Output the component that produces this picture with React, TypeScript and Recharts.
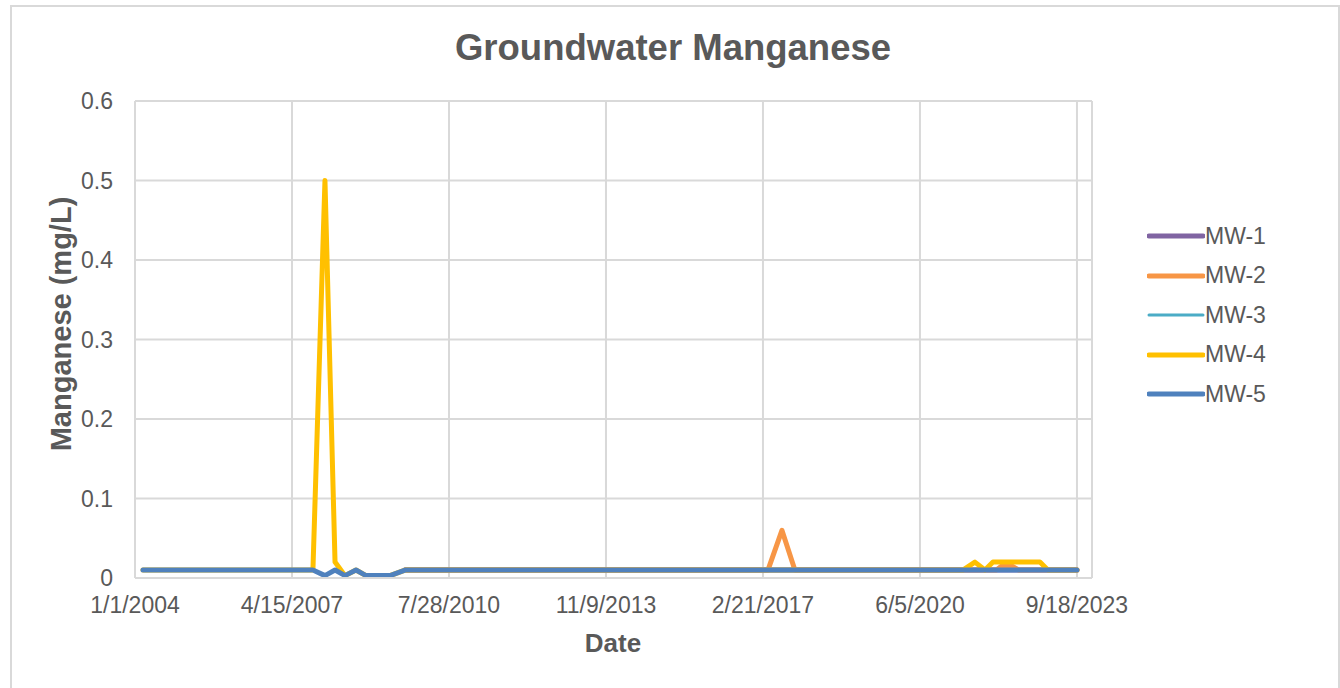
import React from 'react';
import { LineChart, Line, XAxis, YAxis, CartesianGrid } from 'recharts';

// sampling dates (YYYY-MM-DD) and manganese results in mg/L
const mw1Dates = ['2009-08-26', '2012-03-01', '2015-03-01', '2018-03-01', '2021-03-01', '2023-09-18'];
const mw1Values = [0.01, 0.01, 0.01, 0.01, 0.01, 0.01];

const mw2Dates = ['2009-08-26', '2013-03-01', '2017-03-31', '2017-07-16', '2017-10-23', '2022-01-10', '2022-02-20', '2022-05-10', '2022-07-01', '2023-09-18'];
const mw2Values = [0.01, 0.01, 0.01, 0.06, 0.01, 0.01, 0.015, 0.015, 0.01, 0.01];

const mw3Dates = ['2009-08-26', '2012-03-01', '2015-03-01', '2018-03-01', '2021-03-01', '2023-09-18'];
const mw3Values = [0.01, 0.01, 0.01, 0.01, 0.01, 0.01];

const mw4Dates = ['2004-03-02', '2007-09-22', '2007-12-23', '2008-03-09', '2008-05-24', '2008-08-16', '2008-11-01', '2009-05-03', '2009-08-26', '2021-04-29', '2021-07-30', '2021-10-15', '2021-12-15', '2022-12-09', '2023-02-08', '2023-09-18'];
const mw4Values = [0.01, 0.01, 0.5, 0.02, 0.003, 0.01, 0.003, 0.003, 0.01, 0.01, 0.02, 0.01, 0.02, 0.02, 0.01, 0.01];

const mw5Dates = ['2004-03-02', '2005-03-01', '2006-03-01', '2007-03-01', '2007-09-22', '2007-12-23', '2008-03-09', '2008-05-24', '2008-08-16', '2008-11-01', '2009-05-03', '2009-08-26', '2011-03-01', '2013-03-01', '2015-03-01', '2017-03-01', '2019-03-01', '2021-03-01', '2023-09-18'];
const mw5Values = [0.01, 0.01, 0.01, 0.01, 0.01, 0.003, 0.01, 0.003, 0.01, 0.003, 0.003, 0.01, 0.01, 0.01, 0.01, 0.01, 0.01, 0.01, 0.01];

const xTickDates = ['2004-01-01', '2007-04-15', '2010-07-28', '2013-11-09', '2017-02-21', '2020-06-05', '2023-09-18'];
const xMinDate = '2004-01-01';
const xMaxDate = '2024-01-11';
const yTicks = [0, 0.1, 0.2, 0.3, 0.4, 0.5, 0.6];

const toDay = (s: string) => {
  const [y, m, d] = s.split('-').map(Number);
  return Date.UTC(y, m - 1, d) / 86400000;
};

const fmtDate = (v: number) => {
  const d = new Date(v * 86400000);
  return `${d.getUTCMonth() + 1}/${d.getUTCDate()}/${d.getUTCFullYear()}`;
};

const toSeries = (dates: string[], values: number[]) =>
  dates.map((s, i) => ({ t: toDay(s), v: values[i] }));

const series = [
  { name: 'MW-1', color: '#8064A2', width: 5, data: toSeries(mw1Dates, mw1Values) },
  { name: 'MW-2', color: '#F79646', width: 5, data: toSeries(mw2Dates, mw2Values) },
  { name: 'MW-3', color: '#4BACC6', width: 3, data: toSeries(mw3Dates, mw3Values) },
  { name: 'MW-4', color: '#FFC000', width: 5, data: toSeries(mw4Dates, mw4Values) },
  { name: 'MW-5', color: '#4F81BD', width: 5, data: toSeries(mw5Dates, mw5Values) },
];

const FONT = '"Liberation Sans", Arial, sans-serif';
const TEXT = '#595959';
const GRID = '#d9d9d9';

export default function App() {
  return (
    <div
      style={{
        position: 'absolute',
        left: 0,
        top: 0,
        width: 1340,
        height: 688,
        overflow: 'hidden',
        background: '#fff',
        fontFamily: FONT,
      }}
    >
      <div
        style={{
          position: 'absolute',
          left: 10,
          top: 5,
          width: 1326,
          height: 720,
          border: `2px solid ${GRID}`,
        }}
      />
      <div
        style={{
          position: 'absolute',
          left: 0,
          width: 1346,
          top: 30,
          lineHeight: '36px',
          textAlign: 'center',
          fontSize: 36.5,
          fontWeight: 'bold',
          color: TEXT,
        }}
      >
        Groundwater Manganese
      </div>

      <div style={{ position: 'absolute', left: 0, top: 0 }}>
        <LineChart width={1340} height={688} margin={{ top: 101, right: 248, bottom: 70, left: 0 }}>
          <CartesianGrid stroke={GRID} strokeWidth={2} />
          <XAxis
            type="number"
            dataKey="t"
            domain={[toDay(xMinDate), toDay(xMaxDate)]}
            ticks={xTickDates.map(toDay)}
            tickFormatter={fmtDate}
            height={40}
            tickLine={false}
            tickSize={0}
            tickMargin={19}
            axisLine={{ stroke: GRID, strokeWidth: 2 }}
            tick={{ fill: TEXT, fontSize: 23, fontFamily: FONT }}
            interval={0}
          />
          <YAxis
            type="number"
            domain={[0, 0.6]}
            ticks={yTicks}
            width={135}
            tickLine={false}
            tickSize={0}
            tickMargin={22}
            axisLine={{ stroke: GRID, strokeWidth: 2 }}
            tick={{ fill: TEXT, fontSize: 23, fontFamily: FONT }}
            interval={0}
          />
          {series.map((s) => (
            <Line
              key={s.name}
              data={s.data}
              dataKey="v"
              name={s.name}
              type="linear"
              stroke={s.color}
              strokeWidth={s.width}
              strokeLinejoin="round"
              strokeLinecap="round"
              dot={false}
              activeDot={false}
              isAnimationActive={false}
            />
          ))}
        </LineChart>
      </div>

      <div
        style={{
          position: 'absolute',
          left: 61,
          top: 324,
          transform: 'translate(-50%, -50%) rotate(-90deg)',
          whiteSpace: 'nowrap',
          fontSize: 29,
          fontWeight: 'bold',
          color: TEXT,
        }}
      >
        Manganese (mg/L)
      </div>
      <div
        style={{
          position: 'absolute',
          left: 613,
          top: 643,
          transform: 'translate(-50%, -50%)',
          whiteSpace: 'nowrap',
          fontSize: 26,
          fontWeight: 'bold',
          color: TEXT,
        }}
      >
        Date
      </div>

      {series.map((s, i) => (
        <div
          key={s.name}
          style={{
            position: 'absolute',
            left: 1147,
            top: 236 + i * 39.5 - 15,
            height: 30,
            display: 'flex',
            alignItems: 'center',
            fontSize: 23,
            color: TEXT,
          }}
        >
          <svg width={58} height={10} style={{ display: 'block' }}>
            <line x1={2} y1={5} x2={56} y2={5} stroke={s.color} strokeWidth={s.width} strokeLinecap="round" />
          </svg>
          <span>{s.name}</span>
        </div>
      ))}
    </div>
  );
}
